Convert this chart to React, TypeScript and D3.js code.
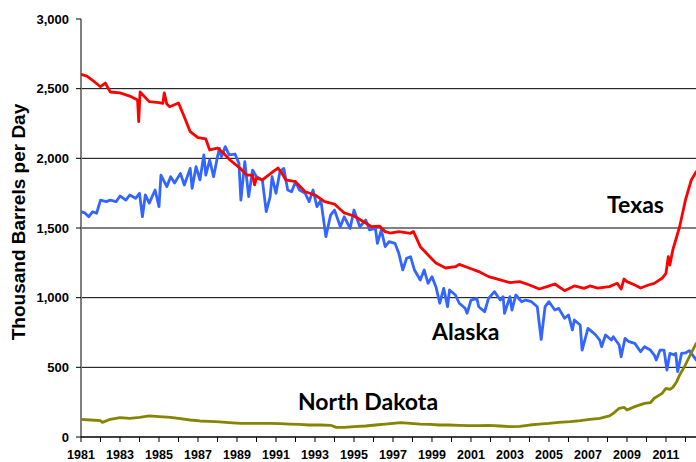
import * as d3 from 'd3';
import React from 'react';

// oil production, thousand barrels per day  [year, value]
const texas: [number, number][] = [
  [1981.0, 2603], [1981.3, 2590], [1981.7, 2548], [1982.0, 2514], [1982.25, 2540], [1982.5, 2476],
  [1983.0, 2470], [1983.5, 2447], [1983.9, 2419], [1983.96, 2263], [1984.03, 2476], [1984.5, 2407],
  [1985.0, 2400], [1985.2, 2395], [1985.27, 2470], [1985.4, 2390], [1985.55, 2370], [1986.0, 2397],
  [1986.3, 2297], [1986.6, 2191], [1987.0, 2148], [1987.4, 2139], [1987.6, 2060], [1988.0, 2074],
  [1988.3, 2038], [1988.64, 1988], [1989.15, 1930], [1989.5, 1880], [1989.8, 1880], [1989.9, 1809],
  [1990.0, 1860], [1990.3, 1845], [1990.85, 1904], [1991.1, 1930], [1991.3, 1895], [1991.5, 1845],
  [1992.0, 1832], [1992.5, 1760], [1993.0, 1737], [1993.5, 1689], [1994.0, 1672], [1994.5, 1608],
  [1995.0, 1586], [1995.6, 1536], [1995.9, 1510], [1996.3, 1514], [1996.6, 1474], [1996.85, 1464],
  [1997.3, 1474], [1997.9, 1462], [1998.05, 1475], [1998.4, 1366], [1998.8, 1306], [1999.2, 1249],
  [1999.7, 1213], [2000.2, 1222], [2000.4, 1239], [2000.9, 1213], [2001.4, 1187], [2001.9, 1151],
  [2002.5, 1127], [2003.0, 1108], [2003.5, 1115], [2004.0, 1091], [2004.5, 1062], [2004.9, 1079],
  [2005.3, 1098], [2005.8, 1050], [2006.3, 1084], [2006.8, 1067], [2007.1, 1084], [2007.5, 1069],
  [2008.1, 1079], [2008.5, 1103], [2008.7, 1062], [2008.85, 1134], [2009.0, 1115], [2009.4, 1091],
  [2009.7, 1069], [2010.1, 1091], [2010.4, 1103], [2010.8, 1139], [2011.0, 1175], [2011.12, 1294],
  [2011.2, 1234], [2011.35, 1342], [2011.7, 1509], [2012.0, 1701], [2012.3, 1845], [2012.55, 1904],
];

const alaska: [number, number][] = [
  [1981.0, 1617], [1981.2, 1608], [1981.4, 1581], [1981.6, 1617], [1981.8, 1606], [1982.0, 1700],
  [1982.3, 1689], [1982.5, 1700], [1982.8, 1689], [1983.0, 1730], [1983.3, 1700], [1983.5, 1737],
  [1983.8, 1713], [1984.0, 1749], [1984.15, 1581], [1984.3, 1737], [1984.5, 1679], [1984.8, 1773],
  [1985.0, 1653], [1985.1, 1880], [1985.4, 1797], [1985.6, 1868], [1985.8, 1823], [1986.1, 1892],
  [1986.3, 1809], [1986.6, 1928], [1986.7, 1785], [1986.9, 1940], [1987.1, 1845], [1987.3, 2024],
  [1987.4, 1880], [1987.6, 1988], [1987.8, 1868], [1988.0, 2012], [1988.1, 2072], [1988.2, 2012],
  [1988.4, 2084], [1988.6, 2024], [1988.9, 2031], [1989.1, 1964], [1989.2, 1700], [1989.4, 1976],
  [1989.6, 1725], [1989.8, 1916], [1990.0, 1868], [1990.3, 1845], [1990.5, 1617], [1990.7, 1725],
  [1990.8, 1868], [1991.0, 1749], [1991.2, 1904], [1991.4, 1928], [1991.6, 1773], [1991.8, 1760],
  [1992.0, 1832], [1992.2, 1773], [1992.5, 1749], [1992.7, 1689], [1992.9, 1773], [1993.1, 1653],
  [1993.3, 1700], [1993.56, 1438], [1993.8, 1593], [1994.0, 1629], [1994.3, 1509], [1994.5, 1581],
  [1994.8, 1497], [1995.0, 1629], [1995.3, 1509], [1995.6, 1557], [1995.8, 1486], [1996.1, 1497],
  [1996.2, 1390], [1996.4, 1486], [1996.6, 1366], [1996.8, 1402], [1997.1, 1390], [1997.3, 1318],
  [1997.5, 1199], [1997.7, 1283], [1997.9, 1294], [1998.1, 1199], [1998.4, 1127], [1998.6, 1199],
  [1998.8, 1103], [1999.0, 1151], [1999.2, 1079], [1999.4, 960], [1999.6, 1067], [1999.8, 935],
  [1999.9, 1055], [2000.2, 1019], [2000.4, 960], [2000.7, 924], [2000.8, 888], [2001.0, 983],
  [2001.3, 995], [2001.4, 935], [2001.7, 899], [2001.9, 995], [2002.2, 1043], [2002.5, 983],
  [2002.65, 1007], [2002.72, 888], [2003.0, 1007], [2003.1, 911], [2003.3, 1019], [2003.6, 971],
  [2003.8, 983], [2004.1, 971], [2004.4, 935], [2004.6, 700], [2004.8, 935], [2005.0, 971],
  [2005.3, 911], [2005.5, 923], [2005.8, 852], [2006.0, 876], [2006.2, 768], [2006.3, 840],
  [2006.6, 804], [2006.7, 624], [2007.0, 780], [2007.2, 756], [2007.4, 732], [2007.6, 696],
  [2007.7, 648], [2007.9, 732], [2008.2, 696], [2008.3, 720], [2008.6, 660], [2008.7, 576],
  [2008.9, 708], [2009.1, 684], [2009.4, 672], [2009.7, 612], [2009.9, 648], [2010.2, 624],
  [2010.4, 588], [2010.5, 553], [2010.7, 624], [2010.9, 624], [2011.05, 481], [2011.2, 600],
  [2011.4, 590], [2011.5, 600], [2011.6, 469], [2011.8, 600], [2012.0, 603], [2012.2, 620],
  [2012.55, 553],
];

const northDakota: [number, number][] = [
  [1981.0, 127], [1981.5, 122], [1982.0, 117], [1982.1, 105], [1982.5, 127], [1983.0, 139],
  [1983.5, 134], [1984.0, 141], [1984.5, 151], [1985.0, 146], [1985.6, 141], [1986.1, 132],
  [1986.6, 122], [1987.1, 115], [1987.6, 112], [1988.1, 108], [1988.6, 103], [1989.2, 98],
  [1989.7, 98], [1990.2, 98], [1990.7, 98], [1991.2, 96], [1991.7, 93], [1992.2, 91],
  [1992.7, 86], [1993.3, 86], [1993.8, 84], [1994.1, 69], [1994.5, 69], [1995.0, 74],
  [1995.6, 79], [1996.1, 86], [1996.6, 93], [1997.4, 103], [1997.9, 98], [1998.4, 93],
  [1998.9, 91], [1999.4, 86], [1999.9, 86], [2000.4, 84], [2000.9, 81], [2001.4, 81],
  [2001.9, 84], [2002.5, 79], [2003.0, 74], [2003.5, 76], [2004.0, 86], [2004.5, 93],
  [2005.0, 98], [2005.5, 105], [2006.1, 110], [2006.6, 117], [2007.1, 127], [2007.6, 134],
  [2008.1, 151], [2008.3, 170], [2008.6, 206], [2008.85, 213], [2009.0, 194], [2009.4, 218],
  [2009.9, 241], [2010.2, 246], [2010.4, 278], [2010.8, 313], [2011.0, 349], [2011.2, 342],
  [2011.35, 356], [2011.55, 397], [2011.7, 445], [2011.95, 505], [2012.2, 576], [2012.55, 672],
];

const yTicks = [0, 500, 1000, 1500, 2000, 2500, 3000];
const tickYears = d3.range(1981, 2013);
const labelYears = d3.range(1981, 2013, 2);

const W = 696;
const H = 462;
const left = 81;
const top = 19;
const bottom = 437;

const App: React.FC = () => {
  const x = d3.scaleLinear().domain([1981, 2012.54]).range([left, W]);
  const y = d3.scaleLinear().domain([0, 3000]).range([bottom, top]);
  const line = d3
    .line<[number, number]>()
    .x(d => x(d[0]))
    .y(d => y(d[1]));

  const labelFont = 'Lato, "Liberation Sans", sans-serif';
  const axisFont = '"Liberation Sans", Arial, sans-serif';

  return (
    <svg
      width={W}
      height={H}
      style={{ position: 'absolute', left: 0, top: 0, background: '#fff' }}
    >
      <defs>
        <clipPath id="plot">
          <rect x={left} y={0} width={W - left} height={bottom + 2} />
        </clipPath>
      </defs>

      {/* gridlines */}
      {yTicks.filter(t => t > 0 && t < 3000).map(t => (
        <line key={t} x1={left} x2={W} y1={y(t)} y2={y(t)} stroke="#000" strokeWidth={1} />
      ))}

      {/* y axis */}
      <line x1={left} x2={left} y1={top} y2={bottom} stroke="#808080" strokeWidth={2} />
      {yTicks.map(t => (
        <g key={t}>
          <line x1={left - 5} x2={left} y1={y(t)} y2={y(t)} stroke="#000" strokeWidth={1} />
          <text
            x={69}
            y={y(t)}
            dy="0.36em"
            textAnchor="end"
            fontFamily={axisFont}
            fontWeight="bold"
            fontSize={13}
          >
            {d3.format(',')(t)}
          </text>
        </g>
      ))}

      {/* x axis */}
      <line x1={left} x2={W} y1={bottom} y2={bottom} stroke="#000" strokeWidth={1.5} />
      {tickYears.map(yr => (
        <line key={yr} x1={x(yr)} x2={x(yr)} y1={bottom} y2={bottom + 5} stroke="#000" strokeWidth={1} />
      ))}
      {labelYears.map(yr => (
        <text
          key={yr}
          x={x(yr)}
          y={459}
          textAnchor="middle"
          fontFamily={axisFont}
          fontWeight="bold"
          fontSize={12.5}
        >
          {yr}
        </text>
      ))}

      <text
        transform="translate(25,222) rotate(-90)"
        textAnchor="middle"
        fontFamily={axisFont}
        fontWeight="bold"
        fontSize={19}
      >
        Thousand Barrels per Day
      </text>

      {/* series */}
      <g clipPath="url(#plot)" fill="none" strokeWidth={2.8} strokeLinejoin="round" strokeLinecap="round">
        <path d={line(alaska) ?? ''} stroke="#3366FF" />
        <path d={line(texas) ?? ''} stroke="#FF0000" />
        <path d={line(northDakota) ?? ''} stroke="#858500" />
      </g>

      {/* series labels */}
      <text x={607} y={213} fontFamily={labelFont} fontWeight="bold" fontSize={23}>Texas</text>
      <text x={432} y={340} fontFamily={labelFont} fontWeight="bold" fontSize={23}>Alaska</text>
      <text x={298} y={410} fontFamily={labelFont} fontWeight="bold" fontSize={23}>North Dakota</text>
    </svg>
  );
};

export default App;
